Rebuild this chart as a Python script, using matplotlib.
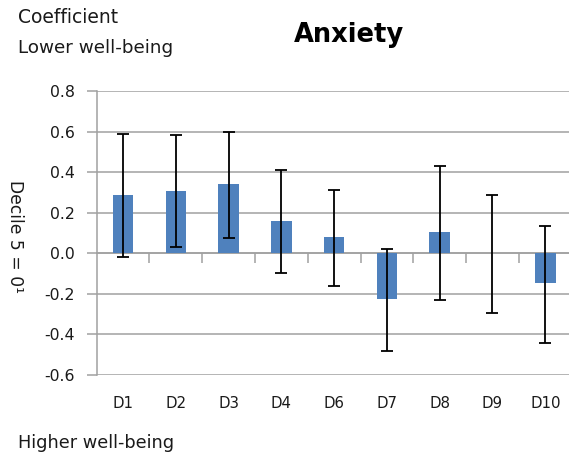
import matplotlib
matplotlib.use("Agg")
import matplotlib.pyplot as plt
import numpy as np

deciles = ["D1", "D2", "D3", "D4", "D6", "D7", "D8", "D9", "D10"]
coef = [0.286, 0.309, 0.340, 0.160, 0.080, -0.227, 0.103, 0.0, -0.146]
ci_upper = [0.590, 0.582, 0.600, 0.410, 0.314, 0.021, 0.432, 0.289, 0.132]
ci_lower = [-0.018, 0.030, 0.077, -0.097, -0.160, -0.483, -0.232, -0.294, -0.445]
yticks = [-0.6, -0.4, -0.2, 0.0, 0.2, 0.4, 0.6, 0.8]

plt.rcParams['font.family'] = ['DejaVu Sans']
grey = '#a0a0a0'
txt = '#1a1a1a'

fig = plt.figure(figsize=(5.69, 4.55), dpi=100)
ax = fig.add_axes([0.170, 0.176, 0.83, 0.624])

x = np.arange(len(deciles))
c = np.array(coef)
yerr = np.array([c - np.array(ci_lower), np.array(ci_upper) - c])

ax.bar(x, coef, width=0.39, color='#4f81bd', zorder=2)
ax.errorbar(x, coef, yerr=yerr, fmt='none', ecolor='black', elinewidth=1.3,
            capsize=4, capthick=1.3, zorder=3)

ax.set_ylim(-0.6, 0.8)
ax.set_xlim(-0.5, 8.45)
ax.set_yticks(yticks)
ax.set_yticklabels(["%.1f" % v for v in yticks], fontsize=11.3, color=txt)
ax.yaxis.grid(True, color=grey, linewidth=1.1, zorder=0)
ax.set_axisbelow(True)

ax.set_xticks(x)
ax.set_xticklabels(deciles, fontsize=10.8, color=txt)
ax.tick_params(axis='x', length=0, pad=15)
ax.tick_params(axis='y', length=7, color=grey, width=1.1, pad=9)

for s in ['top', 'right', 'bottom']:
    ax.spines[s].set_visible(False)
ax.spines['left'].set_color(grey)
ax.spines['left'].set_linewidth(1.1)

# zero line with category boundary ticks
zero = ax.secondary_xaxis(0.6 / 1.4)
zero.set_xticks(np.arange(0.5, len(deciles) - 0.5, 1.0))
zero.set_xticklabels([])
zero.tick_params(length=7, color=grey, width=1.1)
zero.spines['bottom'].set_color(grey)
zero.spines['bottom'].set_linewidth(1.1)

fig.text(0.032, 0.949, "Coefficient", fontsize=13.5, color=txt, va='baseline')
fig.text(0.032, 0.884, "Lower well-being", fontsize=13.2, color=txt, va='baseline')
fig.text(0.032, 0.015, "Higher well-being", fontsize=12.8, color=txt, va='baseline')
fig.text(0.614, 0.922, "Anxiety", fontsize=18.5, fontweight='bold', color='black',
         ha='center', va='center')
fig.text(0.026, 0.481, "Decile 5 = 0\u00b9", fontsize=12.3, color=txt,
         rotation=-90, ha='center', va='center')

fig.savefig("out.png", dpi=100)
